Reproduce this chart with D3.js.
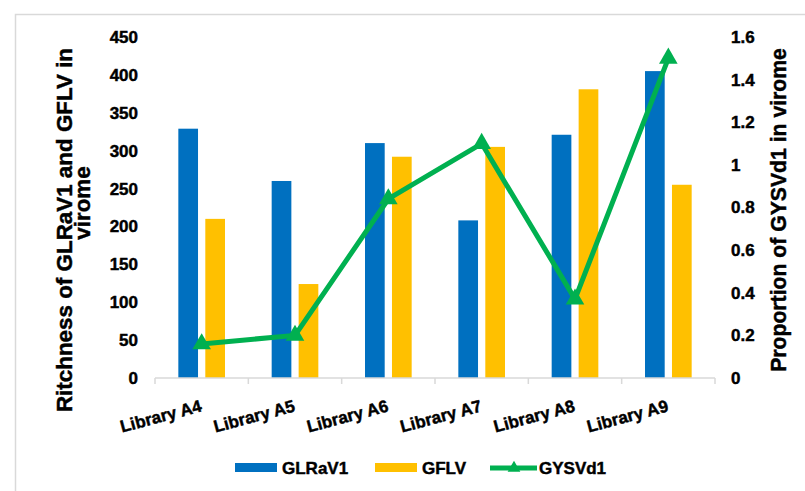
<!DOCTYPE html>
<html>
<head>
<meta charset="utf-8">
<script src="https://cdn.jsdelivr.net/npm/d3@7"></script>
<style>
  html, body { margin: 0; padding: 0; background: #fff; }
  svg { display: block; font-family: "Liberation Sans", Arial, sans-serif; font-weight: bold; }
  .heavy { stroke: #000; stroke-width: 0.45px; paint-order: stroke; }
</style>
</head>
<body>
<svg id="chart" width="805" height="491"></svg>
<script>
// Virome composition per library
const categories = ["Library A4", "Library A5", "Library A6", "Library A7", "Library A8", "Library A9"];
const glrav1 = [329, 260, 310, 208, 321, 405];
const gflv = [210, 124, 292, 305, 381, 255];
const gysvd1 = [0.16, 0.20, 0.84, 1.10, 0.37, 1.50];
const leftTicks = [0, 50, 100, 150, 200, 250, 300, 350, 400, 450];
const rightTicks = [0, 0.2, 0.4, 0.6, 0.8, 1, 1.2, 1.4, 1.6];

const colors = { GLRaV1: "#0070C0", GFLV: "#FFC000", GYSVd1: "#00B050" };
const barSeries = [
  { key: "GLRaV1", values: glrav1 },
  { key: "GFLV", values: gflv }
];

const svg = d3.select("#chart");

// outer frame
svg.append("path")
  .attr("d", "M15.5,491 V14.5 H805")
  .attr("fill", "none")
  .attr("stroke", "#d9d9d9")
  .attr("stroke-width", 1.5);

const plot = { left: 155, right: 715, top: 37, bottom: 378 };

const x = d3.scaleBand().domain(categories).range([plot.left, plot.right]).paddingInner(0).paddingOuter(0);
const bw = x.bandwidth();
const x1 = d3.scaleBand().domain(barSeries.map(s => s.key)).range([bw * 0.25, bw * 0.75]).paddingInner(0.27);
const yL = d3.scaleLinear().domain([0, 450]).range([plot.bottom, plot.top]);
const yR = d3.scaleLinear().domain([0, 1.6]).range([plot.bottom, plot.top]);

// bars
barSeries.forEach(s => {
  svg.append("g").selectAll("rect")
    .data(s.values)
    .join("rect")
    .attr("x", (d, i) => x(categories[i]) + x1(s.key))
    .attr("width", x1.bandwidth())
    .attr("y", d => yL(d))
    .attr("height", d => yL(0) - yL(d))
    .attr("fill", colors[s.key]);
});

// category axis
const xAxis = svg.append("g").attr("transform", `translate(0,${plot.bottom})`);
xAxis.append("line")
  .attr("x1", plot.left).attr("x2", plot.right)
  .attr("stroke", "#d9d9d9").attr("stroke-width", 1.5);
const boundaries = categories.map(c => x(c)).concat([plot.right]);
xAxis.selectAll("line.tick").data(boundaries).join("line")
  .attr("class", "tick")
  .attr("x1", d => d).attr("x2", d => d)
  .attr("y1", 0).attr("y2", 6)
  .attr("stroke", "#d9d9d9").attr("stroke-width", 1.5);
xAxis.selectAll("text").data(categories).join("text")
  .attr("class", "heavy")
  .attr("transform", d => `translate(${x(d) + bw / 2 + 1},${33}) rotate(-15)`)
  .attr("text-anchor", "end")
  .attr("font-size", 17)
  .attr("fill", "#000")
  .text(d => d);

// left value axis
const leftAxis = d3.axisLeft(yL).tickValues(leftTicks).tickSize(0).tickPadding(0);
svg.append("g")
  .attr("transform", `translate(138,0)`)
  .call(leftAxis)
  .call(g => g.select(".domain").remove())
  .call(g => g.selectAll("text").attr("class", "heavy").attr("font-size", 17).attr("font-family", "Liberation Sans, Arial, sans-serif").attr("font-weight", "bold").attr("fill", "#000"));

// right value axis
const rightAxis = d3.axisRight(yR).tickValues(rightTicks).tickSize(0).tickPadding(0).tickFormat(d3.format("~g"));
svg.append("g")
  .attr("transform", `translate(731,0)`)
  .call(rightAxis)
  .call(g => g.select(".domain").remove())
  .call(g => g.selectAll("text").attr("class", "heavy").attr("font-size", 17).attr("font-family", "Liberation Sans, Arial, sans-serif").attr("font-weight", "bold").attr("fill", "#000"));

// axis titles
svg.append("text")
  .attr("class", "heavy")
  .attr("transform", "translate(72,230) rotate(-90)")
  .attr("text-anchor", "middle")
  .attr("font-size", 22.4)
  .text("Ritchness of GLRaV1 and GFLV in");
svg.append("text")
  .attr("class", "heavy")
  .attr("transform", "translate(90,203) rotate(-90)")
  .attr("text-anchor", "middle")
  .attr("font-size", 22.4)
  .text("virome");
svg.append("text")
  .attr("class", "heavy")
  .attr("transform", "translate(786,210) rotate(-90)")
  .attr("text-anchor", "middle")
  .attr("font-size", 21.2)
  .text("Proportion of GYSVd1 in virome");

// GYSVd1 line with triangle markers
const line = d3.line()
  .x((d, i) => x(categories[i]) + bw / 2)
  .y(d => yR(d));
svg.append("path")
  .datum(gysvd1)
  .attr("d", line)
  .attr("fill", "none")
  .attr("stroke", colors.GYSVd1)
  .attr("stroke-width", 5)
  .attr("stroke-linejoin", "round");
const tri = d3.symbol().type(d3.symbolTriangle).size(150);
svg.append("g").selectAll("path")
  .data(gysvd1)
  .join("path")
  .attr("transform", (d, i) => `translate(${x(categories[i]) + bw / 2},${yR(d)})`)
  .attr("d", tri)
  .attr("fill", colors.GYSVd1);

// legend
const legend = svg.append("g").attr("transform", "translate(0,468)");
legend.append("rect").attr("x", 235).attr("y", -5).attr("width", 42).attr("height", 9).attr("fill", colors.GLRaV1);
legend.append("text").attr("class", "heavy").attr("x", 282).attr("y", 6).attr("font-size", 17).text("GLRaV1");
legend.append("rect").attr("x", 375).attr("y", -5).attr("width", 42).attr("height", 9).attr("fill", colors.GFLV);
legend.append("text").attr("class", "heavy").attr("x", 422).attr("y", 6).attr("font-size", 17).text("GFLV");
legend.append("line").attr("x1", 490).attr("x2", 537).attr("y1", 0).attr("y2", 0)
  .attr("stroke", colors.GYSVd1).attr("stroke-width", 5);
legend.append("path").attr("transform", "translate(514,0)").attr("d", d3.symbol().type(d3.symbolTriangle).size(70)).attr("fill", colors.GYSVd1);
legend.append("text").attr("class", "heavy").attr("x", 539).attr("y", 6).attr("font-size", 17).text("GYSVd1");
</script>
</body>
</html>
